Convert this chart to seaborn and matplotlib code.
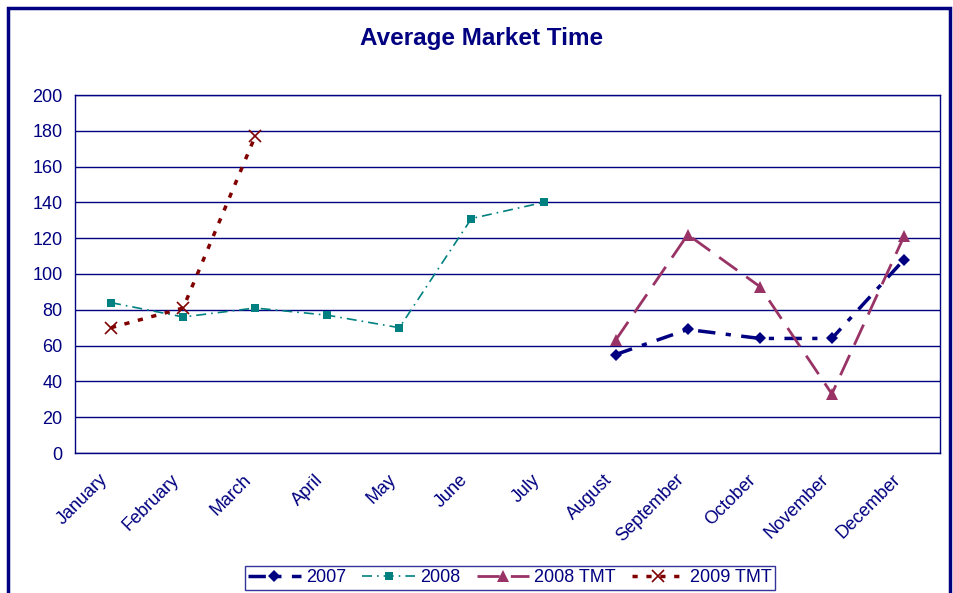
import numpy as np
import pandas as pd
import matplotlib
matplotlib.use('Agg')
import matplotlib.pyplot as plt
import seaborn as sns
from matplotlib.patches import Rectangle

months = ['January', 'February', 'March', 'April', 'May', 'June', 'July',
          'August', 'September', 'October', 'November', 'December']
nan = np.nan
y2007 = [nan, nan, nan, nan, nan, nan, nan, 55, 69, 64, 64, 108]
y2008 = [84, 76, 81, 77, 70, 131, 140, nan, nan, nan, nan, nan]
y2008_tmt = [nan, nan, nan, nan, nan, nan, nan, 63, 122, 93, 33, 121]
y2009_tmt = [70, 81, 177, nan, nan, nan, nan, nan, nan, nan, nan, nan]
y_ticks = list(range(0, 201, 20))

navy = '#000080'
sns.set_style('white')
plt.rcParams['font.family'] = ['Liberation Sans', 'DejaVu Sans']

fig = plt.figure(figsize=(9.54, 5.93), dpi=100)
ax = fig.add_axes([75 / 954, 1 - 453 / 593, 865 / 954, 358 / 593])

x = np.arange(len(months))
series = [
    ('2007', y2007, navy, 'D', (0, (5, 3, 1.5, 3)), 2.5, 6),
    ('2008', y2008, '#008080', 's', (0, (6, 3, 1, 3)), 1.2, 6),
    ('2008 TMT', y2008_tmt, '#993366', '^', (0, (8, 4)), 2.0, 8),
    ('2009 TMT', y2009_tmt, '#800000', 'x', (0, (1.5, 2.5)), 2.5, 8),
]
for name, vals, col, mk, ls, lw, ms in series:
    df = pd.DataFrame({'x': x, 'y': vals}).dropna()
    sns.lineplot(data=df, x='x', y='y', ax=ax, color=col, marker=mk,
                 linestyle=ls, linewidth=lw, markersize=ms,
                 markeredgecolor=col, markeredgewidth=1.2 if mk == 'x' else 0,
                 label=name)

ax.set_xlim(-0.5, 11.5)
ax.set_ylim(0, 200)
ax.set_yticks(y_ticks)
ax.yaxis.grid(True, color=navy, linewidth=1)
ax.set_axisbelow(True)
ax.set_xticks(np.arange(-0.5, 12, 1), minor=False)
ax.set_xticklabels([])
# labels sit a little left of each category centre, like the original
ax.set_xticks(x - 0.17, minor=True)
ax.set_xticklabels(months, minor=True, rotation=45, ha='right',
                   rotation_mode='anchor', color=navy, fontsize=13)
ax.tick_params(axis='x', which='minor', length=0, pad=13)
ax.tick_params(axis='x', which='major', length=5, color=navy, direction='out')
ax.tick_params(axis='y', length=5, color=navy, direction='out',
               labelcolor=navy, labelsize=13, pad=4)
ax.set_xlabel('')
ax.set_ylabel('')
for s in ax.spines.values():
    s.set_color(navy)
    s.set_linewidth(1)

ax.legend_.remove()
h, l = ax.get_legend_handles_labels()
leg = fig.legend(h, l, loc='lower center', bbox_to_anchor=(510 / 954, -0.01),
                 ncol=4, frameon=True, fancybox=False, fontsize=13,
                 handlelength=2.9, handletextpad=0.3, columnspacing=0.9,
                 borderpad=0.2, edgecolor=navy, labelcolor=navy)
leg.get_frame().set_linewidth(1)

fig.text(0.505, 1 - 38 / 593, 'Average Market Time', ha='center', va='center',
         fontsize=17.5, fontweight='bold', color=navy)
fig.patches.append(Rectangle((8 / 954, -0.02), 942 / 954, 1 - 8 / 593 + 0.02,
                             transform=fig.transFigure, fill=False,
                             edgecolor=navy, linewidth=2.5))

fig.savefig('out.png', dpi=100)
